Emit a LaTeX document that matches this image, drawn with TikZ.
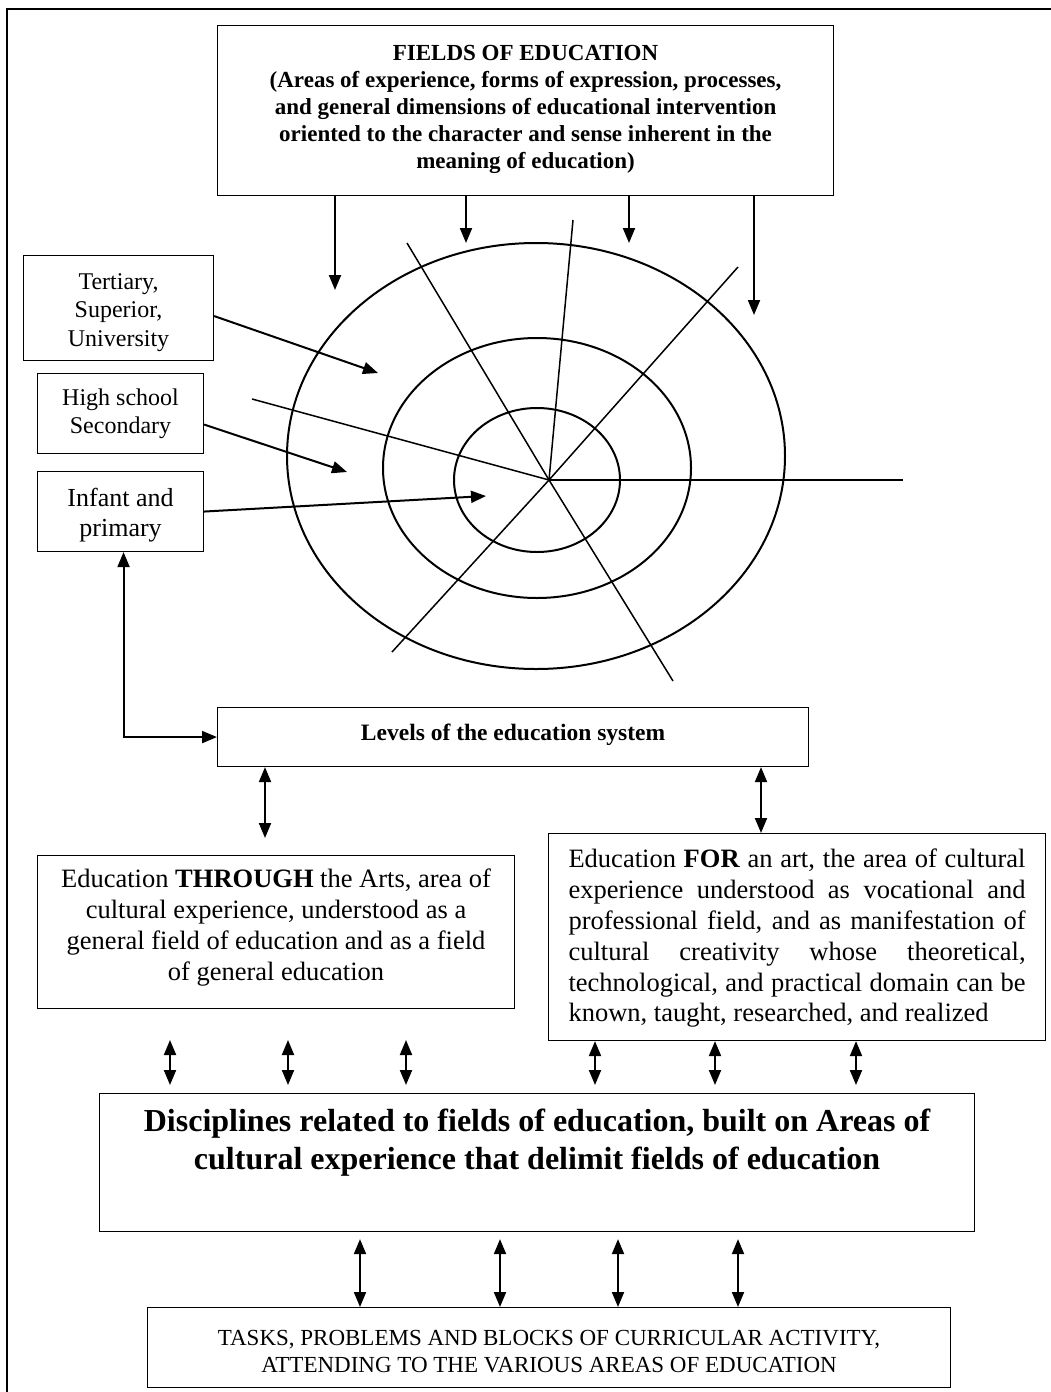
\documentclass[tikz,border=0pt]{standalone}
\usepackage{fontspec}
\setmainfont{Liberation Serif}
\usetikzlibrary{arrows.meta}
\newcommand\setfs[2]{\fontsize{#1}{#2}\selectfont}
\newcommand\justline[1]{\makebox[457pt][s]{#1}\par}

\begin{document}
\begin{tikzpicture}[x=1pt,y=-1pt,
  box/.style={draw,line width=1.1pt,inner sep=0pt,anchor=north west},
  arr/.style={line width=2pt,-{Triangle[length=15pt,width=12pt]}},
  darr/.style={line width=2pt,{Triangle[length=15pt,width=12pt]}-{Triangle[length=15pt,width=12pt]}},
  ring/.style={line width=2pt},
  ray/.style={line width=1.5pt}]

\useasboundingbox (0,0) rectangle (1051,1392);

% outer frame
\draw[line width=2pt] (7,1392) -- (7,9) -- (1051,9);

% boxes
\node[box] (fields) at (217,25) {\parbox[c][170pt][t]{616pt}{\centering\setfs{23}{27}\bfseries\vspace*{16pt}\strut FIELDS OF EDUCATION\\ (Areas of experience, forms of expression, processes,\\ and general dimensions of educational intervention\\ oriented to the character and sense inherent in the\\ meaning of education)}};

\node[box] (tert) at (23,255) {\parbox[c][105pt][t]{190pt}{\centering\setfs{24}{28.5}\vspace*{13.5pt}\strut Tertiary,\\ Superior,\\ University}};
\node[box] (high) at (37,373) {\parbox[c][80pt][t]{166pt}{\centering\setfs{24}{28}\vspace*{12.5pt}\strut High school\\ Secondary}};
\node[box] (inf) at (37,471) {\parbox[c][80pt][t]{166pt}{\centering\setfs{26}{30}\vspace*{14pt}\strut Infant and\\ primary}};

\node[box] (levels) at (217,707) {\parbox[c][59pt][t]{591pt}{\centering\setfs{23.5}{27}\bfseries\vspace*{14pt}\strut Levels of the education system}};

\node[box] (through) at (37,855) {\parbox[c][153pt][t]{477pt}{\centering\setfs{26.5}{31}\vspace*{10pt}\strut Education \textbf{THROUGH} the Arts, area of\\ cultural experience, understood as a\\ general field of education and as a field\\ of general education}};

\node[box] (for) at (548,833) {\parbox[c][207pt][t]{497pt}{\setfs{26.5}{30.8}\leftskip=20pt\vspace*{12.7pt}%
\justline{\strut Education \textbf{FOR} an art, the area of cultural}%
\justline{experience understood as vocational and}%
\justline{professional field, and as manifestation of}%
\justline{cultural creativity whose theoretical,}%
\justline{technological, and practical domain can be}%
\noindent known, taught, researched, and realized\par}};

\node[box] (disc) at (99,1093) {\parbox[c][138pt][t]{875pt}{\centering\setfs{32}{38}\bfseries\vspace*{11.4pt}\strut Disciplines related to fields of education, built on Areas of\\ cultural experience that delimit fields of education}};

\node[box] (tasks) at (147,1307) {\parbox[c][80pt][t]{803pt}{\centering\setfs{23}{27}\vspace*{19pt}\strut TASKS, PROBLEMS AND BLOCKS OF CURRICULAR ACTIVITY,\\ ATTENDING TO THE VARIOUS AREAS OF EDUCATION}};

% concentric levels and radial fields
\coordinate (c) at (549,480);
\draw[ring] (536,456) ellipse [x radius=249, y radius=213];
\draw[ring] (537,468) ellipse [x radius=154, y radius=130];
\draw[ring] (537,480) ellipse [x radius=83, y radius=72];
\foreach \p in {(407,243),(573,220),(738,267),(252,399),(903,480),(392,652),(673,681)}
  \draw[ray] (c) -- \p;

% arrows from the fields box
\coordinate (f1) at (335,290);
\coordinate (f2) at (466,243);
\coordinate (f3) at (629,243);
\coordinate (f4) at (754,315);
\foreach \f in {f1,f2,f3,f4}
  \draw[arr] (fields.south -| \f) -- (\f);

% arrows from the level boxes into the rings
\coordinate (t1) at (378,373);
\coordinate (h1) at (347,472);
\coordinate (i1) at (486,496);
\draw[arr] ([yshift=-8pt]tert.east) -- (t1);
\draw[arr] ([yshift=-11pt]high.east) -- (h1);
\draw[arr] (inf.east) -- (i1);

% infant box <-> levels box
\draw[darr] ([xshift=3pt]inf.south) |- (levels.west);

% levels box <-> the two kinds of education
\coordinate (l1) at (265,838);
\coordinate (l2) at (761,0);
\draw[darr] (levels.south -| l1) -- (l1);
\draw[darr] (levels.south -| l2) -- (for.north -| l2);

% both kinds of education <-> disciplines
\coordinate (dtop) at ([yshift=8pt]disc.north);
\foreach \x in {170,288,406}
  \draw[darr] (\x,1040) -- (dtop -| \x,0);
\foreach \x in {595,715,856}
  \draw[darr] (for.south -| \x,0) -- (dtop -| \x,0);

% disciplines <-> tasks
\coordinate (dbot) at ([yshift=-7pt]disc.south);
\foreach \x in {360,500,618,738}
  \draw[darr] (dbot -| \x,0) -- (tasks.north -| \x,0);

\end{tikzpicture}
\end{document}
